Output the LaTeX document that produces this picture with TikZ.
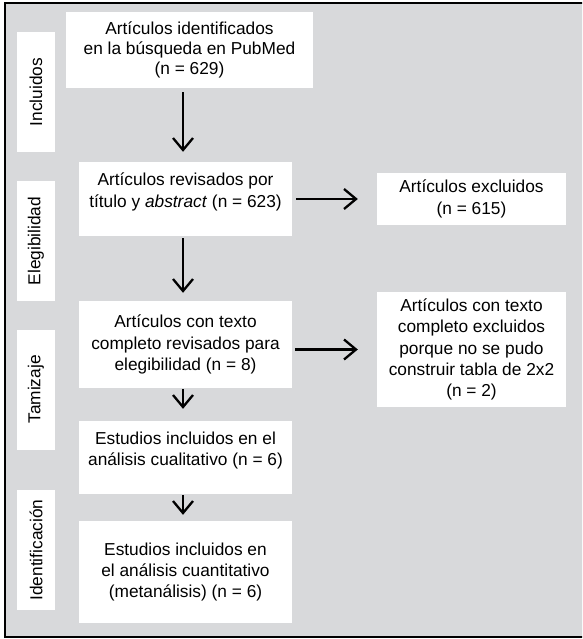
\documentclass[tikz,border=0pt]{standalone}
\usepackage{fontspec}
\setmainfont{Liberation Sans}
\usetikzlibrary{arrows.meta}
\definecolor{panelgray}{RGB}{216,217,219}

\begin{document}
\begin{tikzpicture}[x=1pt, y=-1pt, >={Straight Barb[length=12pt, width=20pt]},
  box/.style={fill=white, inner sep=0pt, align=center,
    font=\fontsize{17.3}{21.3}\selectfont},
  stagebox/.style={fill=white, inner sep=0pt, rotate=90, minimum width=120pt,
    minimum height=38pt, font=\fontsize{17.3}{21.3}\selectfont},
  flow/.style={->, line width=2.3pt}]

\useasboundingbox (0,0) rectangle (582,639);
\clip (0,0) rectangle (582,639);

% Grey panel and its frame (cut off at the right edge)
\draw [fill=panelgray, line width=1.5pt] (5,3) rectangle (600,637);

% Stage labels down the left side
\foreach \y/\lab [count=\i] in {92/Incluidos, 241/Elegibilidad, 389.5/Tamizaje, 550/Identificación} {
  \node [stagebox] (stage-\i) at (36,\y) {\lab};
}

% Main column of boxes
\node [box, minimum width=247pt, minimum height=76pt,
  font=\fontsize{17.3}{20.3}\selectfont] (found) at (189.5,50)
  {Artículos identificados\\en la búsqueda en PubMed\\(n = 629)};
\node [box, minimum width=213pt, minimum height=74pt] (screened) at (185.5,199)
  {Artículos revisados por\\título y \textit{abstract} (n = 623)\\[-10pt]\strut};
\node [box, minimum width=213pt, minimum height=87pt] (fulltext) at (185.5,344.5)
  {Artículos con texto\\completo revisados para\\elegibilidad (n = 8)};
\node [box, minimum width=213pt, minimum height=73pt] (qualit) at (185.5,457.5)
  {Estudios incluidos en el\\análisis cualitativo (n = 6)\\[-10pt]\strut};
\node [box, minimum width=213pt, minimum height=102pt] (quantit) at (185.5,572)
  {Estudios incluidos en\\el análisis cuantitativo\\(metanálisis) (n = 6)};

% Excluded boxes on the right
\node [box, minimum width=189pt, minimum height=52pt] (excl) at (471.5,199)
  {Artículos excluidos\\(n = 615)};
\node [box, minimum width=189pt, minimum height=115pt] (exclfull) at (471.5,349.5)
  {Artículos con texto\\completo excluidos\\porque no se pudo\\construir tabla de 2x2\\(n = 2)};

% Arrows down the column
\coordinate (spine) at (183,0);
\draw [flow, shorten <=4pt, shorten >=10pt] (found.south -| spine) -- (screened.north -| spine);
\draw [flow, shorten <=2pt, shorten >=8pt] (screened.south -| spine) -- (fulltext.north -| spine);
\draw [flow, shorten <=1pt, shorten >=12pt] (fulltext.south -| spine) -- (qualit.north -| spine);
\draw [flow, shorten <=1pt, shorten >=6pt] (qualit.south -| spine) -- (quantit.north -| spine);

% Arrows to the right
\draw [flow, shorten <=4pt, shorten >=19pt] (screened.east) -- (excl.west);
\draw [flow, shorten <=3pt, shorten >=19pt] (fulltext.east |- exclfull.west) -- (exclfull.west);

\end{tikzpicture}
\end{document}
